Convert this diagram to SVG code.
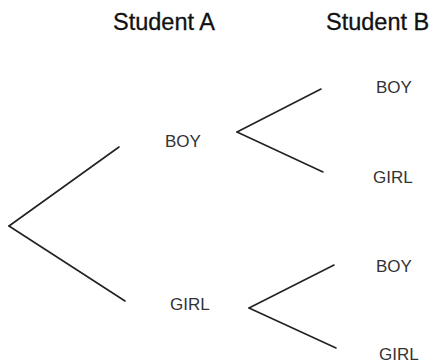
<svg xmlns="http://www.w3.org/2000/svg" width="435" height="364" viewBox="0 0 435 364">
<style>
.hdr{font-family:"Liberation Sans",Arial,sans-serif;font-size:23.5px;fill:#111;stroke:#111;stroke-width:0.3}
.lbl{font-family:"Liberation Sans",Arial,sans-serif;font-size:17px;fill:#333}
.edge{stroke:#222;stroke-width:1.6;fill:none;stroke-linecap:round}
</style>
<rect width="435" height="364" fill="#fff"/>
<g id="headers">
<text class="hdr" x="113" y="30">Student A</text>
<text class="hdr" x="326" y="30">Student B</text>
</g>
<g id="connectors">
<line class="edge" x1="9" y1="226" x2="119" y2="147"/>
<line class="edge" x1="9" y1="226" x2="125" y2="301"/>
<line class="edge" x1="237" y1="132" x2="321" y2="89"/>
<line class="edge" x1="237" y1="132" x2="323" y2="172"/>
<line class="edge" x1="249" y1="308" x2="334" y2="265"/>
<line class="edge" x1="249" y1="308" x2="336" y2="348"/>
</g>
<g id="a-boy"><text class="lbl" x="165" y="147">BOY</text></g>
<g id="a-girl"><text class="lbl" x="170" y="310">GIRL</text></g>
<g id="b-boy-1"><text class="lbl" x="376" y="93">BOY</text></g>
<g id="b-girl-1"><text class="lbl" x="373" y="183">GIRL</text></g>
<g id="b-boy-2"><text class="lbl" x="376" y="272">BOY</text></g>
<g id="b-girl-2"><text class="lbl" x="379" y="360">GIRL</text></g>
</svg>
